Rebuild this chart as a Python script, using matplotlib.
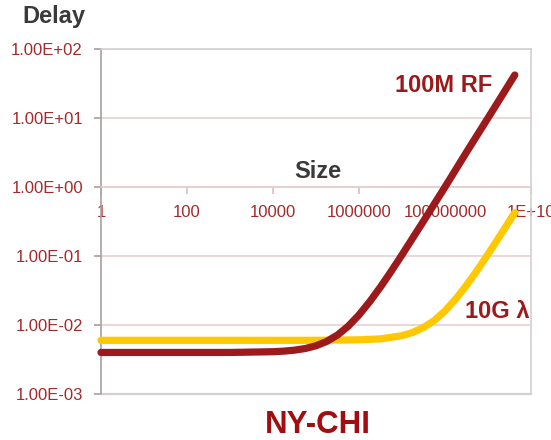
import matplotlib
matplotlib.use("Agg")
import matplotlib.pyplot as plt
from matplotlib.ticker import FixedLocator, FixedFormatter, NullLocator

# Transfer size (bits) and resulting delay (s) for each link
rf_size = [1, 10, 100, 1e3, 1e4, 17783, 31623, 56234, 1e5, 177828, 316228,
           562341, 1e6, 1.778e6, 3.162e6, 5.623e6, 1e7, 3.162e7, 1e8,
           3.162e8, 1e9, 4.2e9]
rf_delay = [0.004, 0.004, 0.004, 0.004, 0.0041, 0.00418, 0.00432, 0.00456,
            0.0050, 0.00578, 0.00716, 0.00962, 0.014, 0.0218, 0.0356, 0.0602,
            0.104, 0.32, 1.0, 3.2, 10.0, 42.0]

lam_size = [1, 10, 100, 1e3, 1e4, 1e5, 1e6, 3.162e6, 1e7, 1.778e7, 3.162e7,
            5.623e7, 1e8, 1.778e8, 3.162e8, 5.623e8, 1e9, 1.778e9, 3.162e9,
            4.2e9]
lam_delay = [0.006, 0.006, 0.006, 0.006, 0.006, 0.006, 0.0061, 0.0063, 0.007,
             0.0078, 0.0092, 0.0116, 0.016, 0.0238, 0.0376, 0.0622, 0.106,
             0.184, 0.322, 0.426]

x_ticks = [1, 100, 1e4, 1e6, 1e8, 1e10]
x_labels = ["1", "100", "10000", "1000000", "100000000", "1E+10"]
y_ticks = [1e-3, 1e-2, 1e-1, 1e0, 1e1, 1e2]
y_labels = ["1.00E-03", "1.00E-02", "1.00E-01", "1.00E+00", "1.00E+01", "1.00E+02"]

DARK_RED = "#9c1a1c"
GOLD = "#ffc800"
TICK_RED = "#a32a2a"
GRID = "#e6cfd0"
FRAME = "#d4d0d0"

plt.rcParams["font.family"] = ["Liberation Sans", "DejaVu Sans"]

fig = plt.figure(figsize=(5.51, 4.40), dpi=100)
ax = fig.add_axes([101 / 551, 1 - 394 / 440, 430 / 551, 345 / 440])
ax.set_xscale("log")
ax.set_yscale("log")
ax.set_xlim(1, 1e10)
ax.set_ylim(1e-3, 1e2)

# horizontal gridlines at each decade
for yv in y_ticks[1:]:
    ax.axhline(yv, color=GRID, lw=1.2, zorder=1)

ax.plot(lam_size, lam_delay, color=GOLD, lw=5.2, solid_capstyle="round",
        zorder=3, clip_on=False)
ax.plot(rf_size, rf_delay, color=DARK_RED, lw=5.2, solid_capstyle="round",
        zorder=4, clip_on=False)

# frame: left axis, plus light border on the other sides
for side in ("top", "right"):
    ax.spines[side].set_color(FRAME)
    ax.spines[side].set_linewidth(1.2)
ax.spines["left"].set_color("#a8a0a0")
ax.spines["left"].set_linewidth(1.2)
ax.spines["bottom"].set_position(("data", 1))
ax.spines["bottom"].set_color(GRID)
ax.spines["bottom"].set_linewidth(1.2)
ax.axhline(1e-3, color=FRAME, lw=1.6, zorder=2, clip_on=False)

ax.xaxis.set_major_locator(FixedLocator(x_ticks))
ax.xaxis.set_major_formatter(FixedFormatter(x_labels))
ax.xaxis.set_minor_locator(NullLocator())
ax.yaxis.set_major_locator(FixedLocator(y_ticks))
ax.yaxis.set_major_formatter(FixedFormatter(y_labels))
ax.yaxis.set_minor_locator(NullLocator())

ax.tick_params(axis="x", direction="out", length=5, width=1.2, color="#d8c0c0",
               labelsize=12, labelcolor=TICK_RED, pad=8)
ax.tick_params(axis="y", direction="out", length=5, width=1.2, color="#a8a0a0",
               labelsize=12, labelcolor=TICK_RED, pad=8)
for lbl in ax.get_xticklabels():
    lbl.set_clip_on(False)

fig.text(54 / 551, 1 - 17 / 440, "Delay", fontsize=17, fontweight="bold",
         color="#3a3a3a", ha="center", va="center")
fig.text(318 / 551, 1 - 172 / 440, "Size", fontsize=17, fontweight="bold",
         color="#3a3a3a", ha="center", va="center")
fig.text(444 / 551, 1 - 86 / 440, "100M RF", fontsize=17, fontweight="bold",
         color=DARK_RED, ha="center", va="center")
fig.text(497 / 551, 1 - 311 / 440, "10G λ", fontsize=17, fontweight="bold",
         color=DARK_RED, ha="center", va="center")
fig.text(318 / 551, 1 - 425 / 440, "NY-CHI", fontsize=22.5, fontweight="bold",
         color="#a10d10", ha="center", va="center")

fig.savefig("out.png", dpi=100)
